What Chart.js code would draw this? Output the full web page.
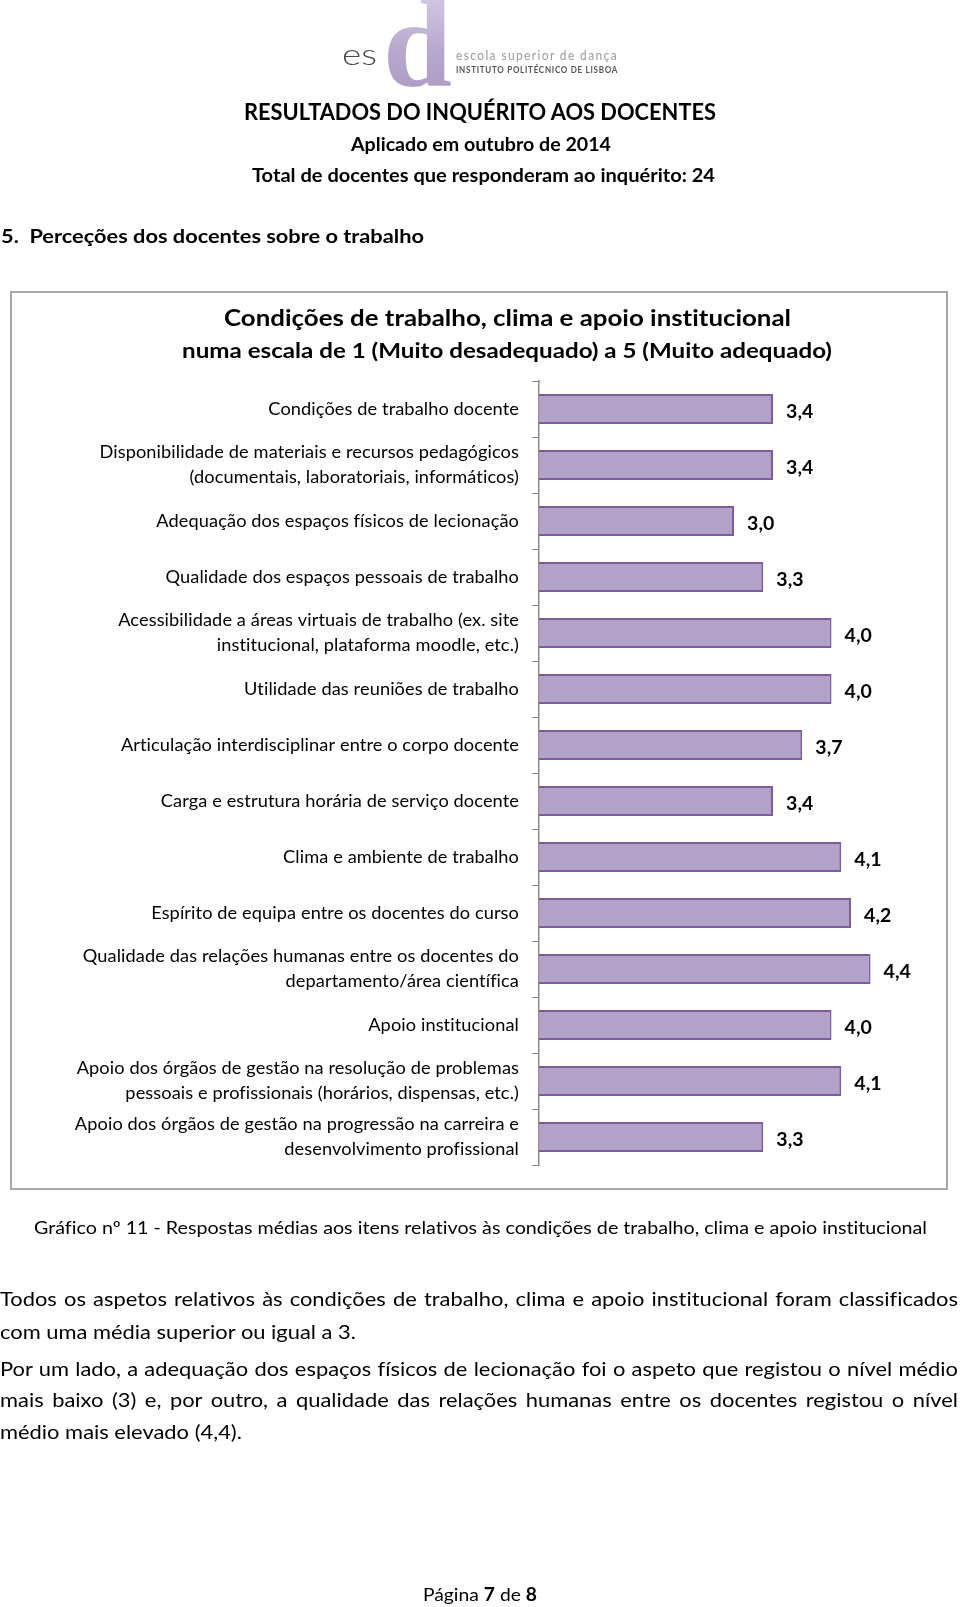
<!DOCTYPE html>
<html lang="pt">
<head>
<meta charset="utf-8">
<title>Condições de trabalho, clima e apoio institucional</title>
<script src="https://cdn.jsdelivr.net/npm/chart.js@4.4.1/dist/chart.umd.min.js"></script>
<style>
  html, body { margin: 0; padding: 0; background: #fff; }
  body { width: 960px; height: 1607px; position: relative; overflow: hidden; font-family: Lato, "Open Sans", sans-serif; color: #000; font-variant-ligatures: none; }
  .t { position: absolute; white-space: nowrap; line-height: 1; transform-origin: 0 0; }
  .b { font-weight: bold; }
  #frame { position: absolute; left: 10px; top: 291px; width: 934px; height: 895px; border: 2px solid #a8a8a8; }
  #chartBox { position: absolute; left: 0; top: 370px; width: 960px; height: 810px; }
  .logo-d { position: absolute; left: 383px; top: -17px; font-family: "Liberation Serif", "DejaVu Serif", serif; font-weight: bold; font-size: 124px; line-height: 1;
            background: linear-gradient(180deg, #d9d0e6 0%, #b6a8cd 55%, #a999c3 100%); -webkit-background-clip: text; background-clip: text; color: transparent; }
</style>
</head>
<body>

<!-- logo -->
<div class="logo-d">d</div>
<div class="t" style="font-size:30px;font-weight:300;color:#4a4a4a" data-x="342" data-b="65" data-w="35">es</div>
<div class="t" style="font-size:13px;color:#9a9a9a;letter-spacing:1.5px" data-x="456" data-b="61" data-w="162">escola superior de dança</div>
<div class="t b" style="font-size:9px;color:#555;letter-spacing:0.8px" data-x="456" data-b="73" data-w="162">INSTITUTO POLITÉCNICO DE LISBOA</div>

<!-- header -->
<div class="t b" style="font-size:22px" data-x="244" data-b="121" data-w="472">RESULTADOS DO INQUÉRITO AOS DOCENTES</div>
<div class="t b" style="font-size:18px" data-x="351" data-b="151" data-w="260">Aplicado em outubro de 2014</div>
<div class="t b" style="font-size:18px" data-x="252" data-b="182" data-w="463">Total de docentes que responderam ao inquérito: 24</div>
<div class="t b" style="font-size:19px" data-x="1" data-b="243" data-w="423">5.&nbsp;&nbsp;Perceções dos docentes sobre o trabalho</div>

<!-- chart frame -->
<div id="frame"></div>
<div class="t b" style="font-size:22px" data-x="224" data-b="327" data-w="567">Condições de trabalho, clima e apoio institucional</div>
<div class="t b" style="font-size:21px" data-x="182" data-b="358" data-w="650">numa escala de 1 (Muito desadequado) a 5 (Muito adequado)</div>
<div id="chartBox"><canvas id="chart" width="960" height="810"></canvas></div>

<!-- caption and text -->
<div class="t" style="font-size:18px" data-x="34" data-b="1234" data-w="893">Gráfico nº 11 - Respostas médias aos itens relativos às condições de trabalho, clima e apoio institucional</div>
<div class="t para j" style="font-size:20px" data-x="0" data-b="1306">Todos os aspetos relativos às condições de trabalho, clima e apoio institucional foram classificados</div>
<div class="t para" id="ref" style="font-size:20px" data-x="0" data-b="1339" data-w="356">com uma média superior ou igual a 3.</div>
<div class="t para j" style="font-size:20px" data-x="0" data-b="1376">Por um lado, a adequação dos espaços físicos de lecionação foi o aspeto que registou o nível médio</div>
<div class="t para j" style="font-size:20px" data-x="0" data-b="1407">mais baixo (3) e, por outro, a qualidade das relações humanas entre os docentes registou o nível</div>
<div class="t para" style="font-size:20px" data-x="0" data-b="1439">médio mais elevado (4,4).</div>

<div class="t" style="font-size:18px" data-x="423" data-b="1601" data-w="114">Página <b>7</b> de <b>8</b></div>

<script>
// chart data
const categories = [
  'Condições de trabalho docente',
  ['Disponibilidade de materiais e recursos pedagógicos', '(documentais, laboratoriais, informáticos)'],
  'Adequação dos espaços físicos de lecionação',
  'Qualidade dos espaços pessoais de trabalho',
  ['Acessibilidade a áreas virtuais de trabalho (ex. site', 'institucional, plataforma moodle, etc.)'],
  'Utilidade das reuniões de trabalho',
  'Articulação interdisciplinar entre o corpo docente',
  'Carga e estrutura horária de serviço docente',
  'Clima e ambiente de trabalho',
  'Espírito de equipa entre os docentes do curso',
  ['Qualidade das relações humanas entre os docentes do', 'departamento/área científica'],
  'Apoio institucional',
  ['Apoio dos órgãos de gestão na resolução de problemas', 'pessoais e profissionais (horários, dispensas, etc.)'],
  ['Apoio dos órgãos de gestão na progressão na carreira e', 'desenvolvimento profissional']
];
const mediaValues = [3.4, 3.4, 3.0, 3.3, 4.0, 4.0, 3.7, 3.4, 4.1, 4.2, 4.4, 4.0, 4.1, 3.3];
const scaleMin = 1;
const scaleMax = 5;

// place text lines: baseline position and fitted width
function placeText() {
  const items = document.querySelectorAll('.t');
  items.forEach(el => {
    const size = parseFloat(el.style.fontSize);
    el.style.left = el.dataset.x + 'px';
    el.style.top = (parseFloat(el.dataset.b) - 0.887 * size) + 'px';
  });
  // paragraph scale taken from the short reference line
  const ref = document.getElementById('ref');
  const paraScale = 356 / ref.getBoundingClientRect().width;
  items.forEach(el => {
    if (el.classList.contains('para')) {
      if (el.classList.contains('j')) {
        el.style.width = (958 / paraScale) + 'px';
        el.style.whiteSpace = 'normal';
        el.style.textAlign = 'justify';
        el.style.textAlignLast = 'justify';
      }
      el.style.transform = 'scaleX(' + paraScale + ')';
    } else if (el.dataset.w) {
      const w = el.getBoundingClientRect().width;
      el.style.transform = 'scaleX(' + (parseFloat(el.dataset.w) / w) + ')';
    }
  });
}
placeText();

// no ligatures in canvas text (tiny letter spacing)
const noLigatures = {
  id: 'noLigatures',
  beforeDraw(chart) {
    if ('letterSpacing' in chart.ctx) chart.ctx.letterSpacing = '0.1px';
  }
};

// value labels at the end of each bar
const valueLabels = {
  id: 'valueLabels',
  afterDatasetsDraw(chart) {
    const ctx = chart.ctx;
    const meta = chart.getDatasetMeta(0);
    ctx.save();
    ctx.font = 'bold 19.5px Lato';
    ctx.fillStyle = '#000';
    ctx.textBaseline = 'middle';
    ctx.textAlign = 'left';
    meta.data.forEach((bar, i) => {
      const txt = mediaValues[i].toFixed(1).replace('.', ',');
      ctx.fillText(txt, bar.x + 13, bar.y + 3);
    });
    ctx.restore();
  }
};

const ctx = document.getElementById('chart').getContext('2d');
const chart = new Chart(ctx, {
  type: 'bar',
  data: {
    labels: categories,
    datasets: [{
      data: mediaValues,
      backgroundColor: '#b3a2c7',
      borderColor: '#7b5c9f',
      borderWidth: 2,
      borderSkipped: false,
      barPercentage: 0.54,
      categoryPercentage: 1
    }]
  },
  options: {
    indexAxis: 'y',
    responsive: false,
    animation: false,
    devicePixelRatio: 1,
    layout: { padding: { top: 11, bottom: 15, left: 0, right: 31 } },
    plugins: { legend: { display: false }, tooltip: { enabled: false } },
    scales: {
      x: { type: 'linear', min: scaleMin, max: scaleMax, display: false },
      y: {
        afterFit(scale) {
          scale.width = 539;
          scale.paddingTop = 0;
          scale.paddingBottom = 0;
        },
        grid: { display: true, drawOnChartArea: false, drawTicks: true, tickLength: 7, color: '#8c8c8c', lineWidth: 1, offset: true },
        border: { display: true, color: '#8c8c8c', width: 1.5 },
        ticks: { color: '#000', padding: 13, font: { family: 'Lato', size: 18.2, lineHeight: 1.38 } }
      }
    }
  },
  plugins: [noLigatures, valueLabels]
});
</script>
</body>
</html>
